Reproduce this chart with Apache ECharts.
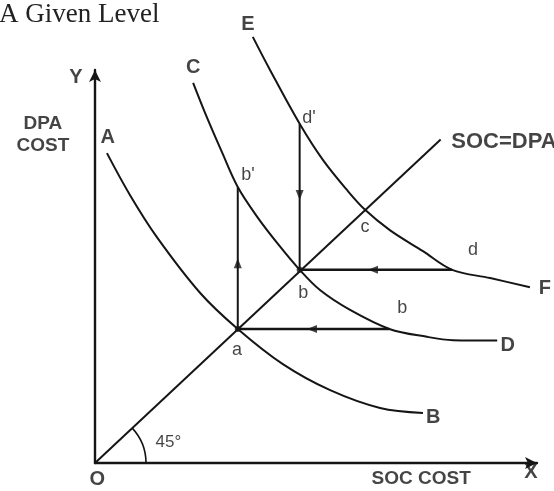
<!DOCTYPE html>
<html>
<head>
<meta charset="utf-8">
<script src="https://cdn.jsdelivr.net/npm/echarts@6/dist/echarts.min.js"></script>
<style>html,body{margin:0;padding:0;background:#fff;}#c{width:554px;height:491px;}</style>
</head>
<body>
<div id="c"></div>
<script>
// Curves (data units: SOC cost on x, DPA cost on y)
const curveAB = [[2.7,74.9],[7.9,64.8],[14.0,54.6],[23.8,41.1],[32.3,32.4],[42.5,23.9],[53.2,17.6],[64.5,13.3],[74.2,12.1]];
const curveCD = [[22.2,91.9],[25.3,83.6],[28.7,75.2],[32.3,66.7],[36.7,59.5],[41.2,53.2],[46.3,46.7],[50.9,41.8],[57.7,37.0],[66.6,32.4],[75.1,30.5],[81.0,29.7],[91.0,29.6]];
const curveEF = [[35.7,103.0],[39.6,95.0],[46.3,82.0],[51.6,73.2],[57.0,66.0],[61.1,61.2],[66.7,56.3],[74.2,51.2],[80.8,46.7],[89.4,44.7],[98.4,42.5]];
const diag45 = [[0,0],[78.2,78.2]];
// Movement lines
const upAB = [[32.3,32.4],[32.3,66.7]];
const downDB = [[46.3,82.0],[46.3,46.7]];
const leftDB = [[80.8,46.7],[46.3,46.7]];
const leftBA = [[66.6,32.4],[32.3,32.4]];
// Arrow heads: [x, y, rotation]
const arrowHeads = [[32.3,48.3,0],[46.3,64.8,180],[62.9,46.7,90],[49.1,32.4,90]];
const junctions = [[32.3,32.4],[46.3,46.7]];
// Labels
const bigLabels = [["A",2.9,78.6],["B",76.5,10.9],["C",22.2,95.5],["D",93.4,28.5],["E",34.6,105.9],["F",101.8,42.3],["O",0.5,-4.1],["X",98.6,-2.4],["Y",-4.3,93.3]];
const smallLabels = [["a",32.1,27.3],["b",47.1,41.1],["b",69.5,37.5],["b'",34.6,69.6],["d'",48.4,83.4],["c",61.1,57.0],["d",85.5,51.5]];
const axisTitles = [["DPA\nCOST",-11.8,79.3],["SOC COST",73.8,-3.9]];
const diagLabel = ["SOC=DPA",80.6,77.6];
const angleLabel = ["45°",16.6,5.1];

const ink = '#151515';
const chart = echarts.init(document.getElementById('c'));

function lineSeries(data, smooth, width) {
  return {type:'line', data:data, smooth:smooth, showSymbol:false, clip:false, silent:true,
    lineStyle:{color:ink, width:width}, z:2};
}
function labelSeries(items, size, extra) {
  return {type:'scatter', clip:false, silent:true, symbolSize:0,
    data: items.map(d => ({name:d[0], value:[d[1], d[2]]})),
    label:Object.assign({show:true, formatter:'{b}', position:'inside', color:ink,
      fontFamily:'Liberation Sans, Arial, sans-serif', fontSize:size, lineHeight:size+2}, extra||{}), z:5};
}

chart.setOption({
  backgroundColor:'#fff',
  animation:false,
  title:{text:'A Given Level', left:-6, top:-4,
    textStyle:{fontFamily:'Liberation Serif, Times New Roman, serif', fontWeight:'normal', fontSize:27, color:'#222'}},
  grid:{left:95, right:17, top:70, bottom:28, containLabel:false},
  xAxis:{type:'value', min:0, max:100, splitLine:{show:false}, axisTick:{show:false}, axisLabel:{show:false},
    axisLine:{show:true, symbol:['none','arrow'], symbolSize:[9,12], lineStyle:{color:ink, width:2.4}}},
  yAxis:{type:'value', min:0, max:95, splitLine:{show:false}, axisTick:{show:false}, axisLabel:{show:false},
    axisLine:{show:true, symbol:['none','arrow'], symbolSize:[9,12], lineStyle:{color:ink, width:2.4}}},
  series:[
    lineSeries(curveAB, 0.35, 2),
    lineSeries(curveCD, 0.35, 2),
    lineSeries(curveEF, 0.35, 2),
    lineSeries(diag45, false, 2),
    lineSeries(upAB, false, 2),
    lineSeries(downDB, false, 2),
    lineSeries(leftDB, false, 2.4),
    lineSeries(leftBA, false, 2.4),
    {type:'scatter', clip:false, silent:true, symbol:'triangle', symbolSize:[8,10],
      data: arrowHeads.map(a => ({value:[a[0],a[1]], symbolRotate:a[2]})),
      itemStyle:{color:ink}, z:4},
    {type:'scatter', clip:false, silent:true, symbol:'circle', symbolSize:6,
      data: junctions, itemStyle:{color:ink}, z:4},
    labelSeries(bigLabels, 20, {fontWeight:'bold'}),
    labelSeries(smallLabels, 18),
    labelSeries(axisTitles, 19, {fontWeight:'bold', lineHeight:22}),
    labelSeries([diagLabel], 22, {fontWeight:'bold', position:'right', distance:0}),
    labelSeries([angleLabel], 17)
  ]
});

const o = chart.convertToPixel({gridIndex:0}, [0,0]);
const p = chart.convertToPixel({gridIndex:0}, diag45[1]);
const ang = Math.atan2(p[1]-o[1], p[0]-o[0]);
chart.setOption({graphic:[{type:'arc', silent:true, z:3,
  shape:{cx:o[0], cy:o[1], r:51, startAngle:ang, endAngle:0, clockwise:true},
  style:{stroke:ink, lineWidth:1.6, fill:null}}]});
</script>
</body>
</html>
